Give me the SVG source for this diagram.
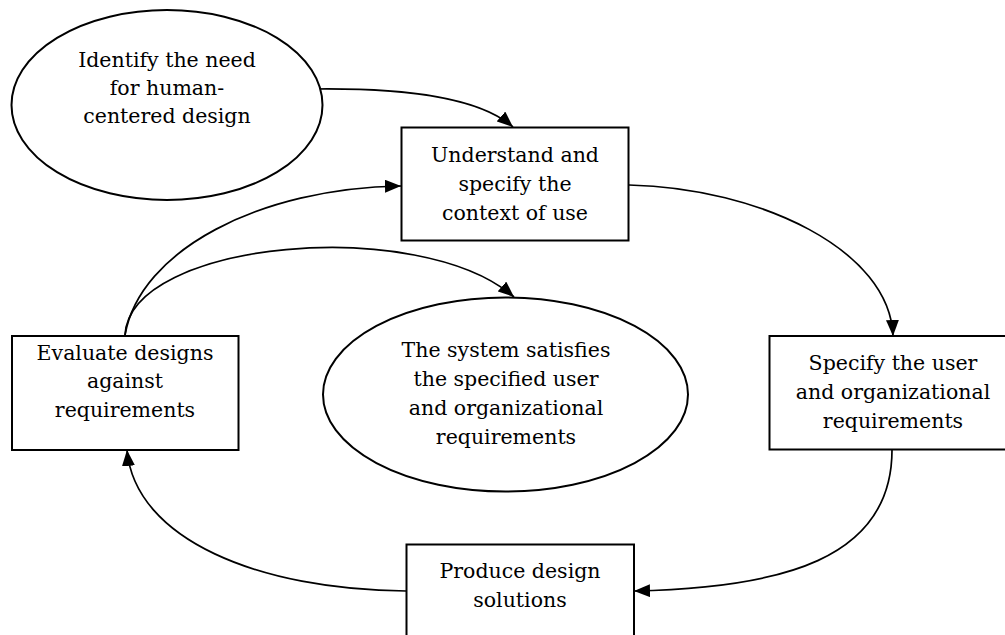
<svg xmlns="http://www.w3.org/2000/svg" width="1005" height="635" viewBox="0 0 1005 635">
  <style>
    .shape { fill: #ffffff; stroke: #000000; stroke-width: 2; }
    .edge { fill: none; stroke: #000000; stroke-width: 1.7; marker-end: url(#arrow); }
    text { font-family: "DejaVu Serif", "Liberation Serif", serif; font-size: 20.5px; fill: #000000; text-anchor: middle; }
  </style>
  <defs>
    <marker id="arrow" viewBox="0 0 16 13" refX="16" refY="6.5" markerWidth="16" markerHeight="13" markerUnits="userSpaceOnUse" orient="auto">
      <path d="M0,0 L16,6.5 L0,13 z" fill="#000000"/>
    </marker>
  </defs>
  <rect width="1005" height="635" fill="#ffffff"/>

  <g id="connectors">
    <path class="edge" d="M315,89 C410,88 480,98 513,127"/>
    <path class="edge" d="M629,185 C760,188 890,250 893,336"/>
    <path class="edge" d="M892,450 C892,560 780,588 634,591"/>
    <path class="edge" d="M406,591 C260,590 135,540 127,450"/>
    <path class="edge" d="M125,335 C140,250 260,188 401,186"/>
    <path class="edge" d="M125,335 C130,240 420,215 514,297"/>
  </g>

  <g id="identify-need">
    <ellipse class="shape" cx="167" cy="105" rx="155.5" ry="95"/>
    <text x="167" y="67">Identify the need</text>
    <text x="167" y="95">for human-</text>
    <text x="167" y="123">centered design</text>
  </g>

  <g id="context-of-use">
    <rect class="shape" x="401.5" y="127.5" width="227" height="113"/>
    <text x="515" y="162">Understand and</text>
    <text x="515" y="191">specify the</text>
    <text x="515" y="220">context of use</text>
  </g>

  <g id="user-requirements">
    <rect class="shape" x="769.5" y="336" width="248" height="113.5"/>
    <text x="893" y="370">Specify the user</text>
    <text x="893" y="399">and organizational</text>
    <text x="893" y="428">requirements</text>
  </g>

  <g id="design-solutions">
    <rect class="shape" x="406.5" y="544.5" width="227.5" height="115"/>
    <text x="520" y="578">Produce design</text>
    <text x="520" y="607">solutions</text>
  </g>

  <g id="evaluate-designs">
    <rect class="shape" x="12" y="336" width="226.5" height="114"/>
    <text x="125" y="360">Evaluate designs</text>
    <text x="125" y="388">against</text>
    <text x="125" y="417">requirements</text>
  </g>

  <g id="system-satisfies">
    <ellipse class="shape" cx="505.5" cy="394.5" rx="182.5" ry="97"/>
    <text x="506" y="357">The system satisfies</text>
    <text x="506" y="386">the specified user</text>
    <text x="506" y="415">and organizational</text>
    <text x="506" y="444">requirements</text>
  </g>
</svg>
